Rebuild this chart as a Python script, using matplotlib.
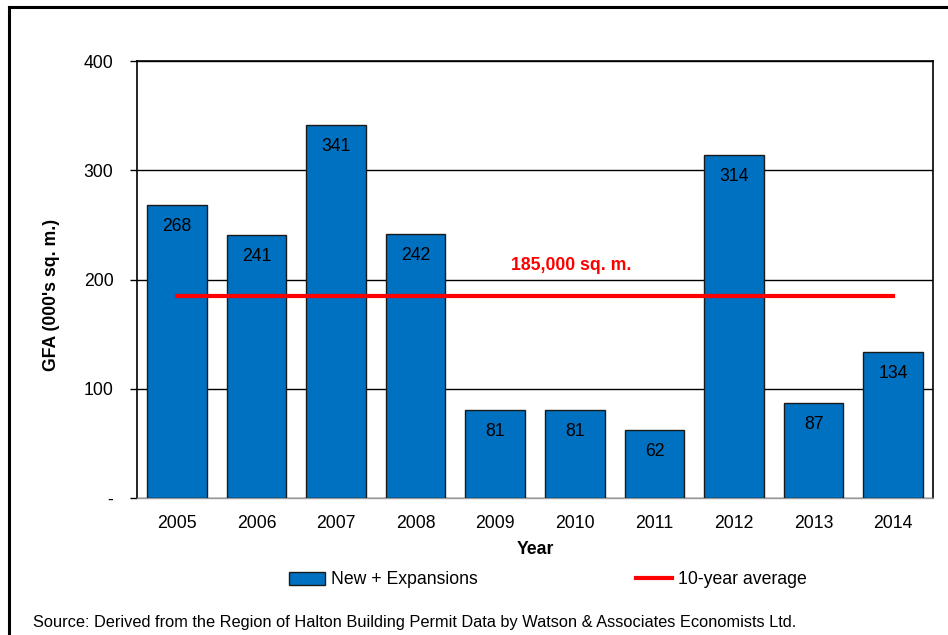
import matplotlib
matplotlib.use("Agg")
import matplotlib.pyplot as plt
from matplotlib.lines import Line2D

plt.rcParams['font.family'] = ['Liberation Sans', 'DejaVu Sans']

years = ['2005', '2006', '2007', '2008', '2009', '2010', '2011', '2012', '2013', '2014']
gfa = [268, 241, 341, 242, 81, 81, 62, 314, 87, 134]
average = 185
avg_label = '185,000 sq. m.'
yticks = [0, 100, 200, 300, 400]
ytick_labels = ['-', '100', '200', '300', '400']

fs = 12.7

fig = plt.figure(figsize=(9.48, 6.35), dpi=100)
ax = fig.add_axes([137 / 948, 1 - 498 / 635, (933 - 137) / 948, (498 - 61) / 635])

x = list(range(len(years)))
bars = ax.bar(x, gfa, width=0.75, color='#0070C0', edgecolor='#1a1a1a', linewidth=1,
              label='New + Expansions', zorder=3)
for xi, v in zip(x, gfa):
    ax.annotate(str(v), (xi, v), xytext=(0, -15.5), textcoords='offset points',
                ha='center', va='center', fontsize=fs, color='black', zorder=5)

ax.plot([x[0], x[-1]], [average, average], color='#FF0000', linewidth=3,
        label='10-year average', zorder=4)
ax.text(4.95, 213, avg_label, color='#FF0000', fontsize=fs, fontweight='bold',
        ha='center', va='center')

ax.set_xlim(-0.5, len(years) - 0.5)
ax.set_ylim(0, 400)
ax.set_yticks(yticks)
ax.set_yticklabels(ytick_labels, fontsize=fs)
ax.set_xticks(x)
ax.set_xticklabels(years, fontsize=fs)
ax.tick_params(axis='x', length=0, pad=12)
ax.tick_params(axis='y', length=5, width=1, pad=12)
ax.yaxis.grid(True, color='black', linewidth=1, zorder=0)
for side in ['top', 'right', 'left']:
    ax.spines[side].set_color('black')
    ax.spines[side].set_linewidth(1.2)
ax.spines['bottom'].set_color('#999999')
ax.spines['bottom'].set_linewidth(1)

ax.set_xlabel('Year', fontsize=fs, fontweight='bold', labelpad=7)
ax.set_ylabel("GFA (000's sq. m.)", fontsize=fs, fontweight='bold')
ax.yaxis.set_label_coords(-0.0968, 0.4645)

handles = [bars, Line2D([0], [0], color='#FF0000', linewidth=3)]
fig.legend(handles, ['New + Expansions', '10-year average'], loc='center',
           bbox_to_anchor=(548 / 948, 1 - 580 / 635), ncol=2, frameon=False,
           fontsize=fs, handlelength=2.0, handletextpad=0.35, columnspacing=9.0)

fig.text(33 / 948, 1 - 622 / 635, 'Source: Derived from the Region of Halton Building Permit Data by Watson & Associates Economists Ltd.',
         fontsize=11.8, ha='left', va='center')

# outer frame (left and top edges)
fig.add_artist(Line2D([8.5 / 948, 8.5 / 948], [0, 1 - 7 / 635], color='black', linewidth=2.2,
                      transform=fig.transFigure))
fig.add_artist(Line2D([8.5 / 948, 1], [1 - 7 / 635, 1 - 7 / 635], color='black', linewidth=2.2,
                      transform=fig.transFigure))

fig.savefig('out.png', dpi=100)
